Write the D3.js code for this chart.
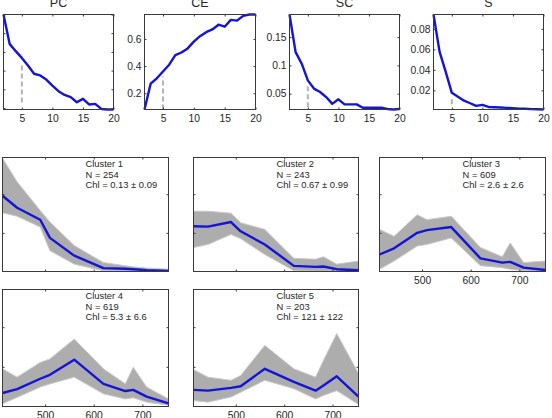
<!DOCTYPE html>
<html>
<head>
<meta charset="utf-8">
<script src="https://cdn.jsdelivr.net/npm/d3@7"></script>
<style>
	body { margin: 0; background: #fff; }
	svg text { font-family: "Liberation Sans", Arial, sans-serif; fill: #262626; }
</style>
</head>
<body>
<div id="chart"></div>
<script>
// ********** CLUSTER VALIDITY + SPECTRA FIGURE **********

// Number of clusters on the x axis of the validity panels
const nClusters = [2, 3, 4, 5, 6, 7, 8, 9, 10, 11, 12, 13, 14, 15, 16, 17, 18, 19, 20];
const nTicks = [5, 10, 15, 20];

// Validity indices
const pcValues = [0.80, 0.643, 0.604, 0.568, 0.527, 0.483, 0.474, 0.452, 0.420, 0.390, 0.370, 0.358, 0.331, 0.349, 0.319, 0.322, 0.295, 0.292, 0.292];
const ceValues = [0.08, 0.27, 0.31, 0.36, 0.41, 0.48, 0.50, 0.53, 0.58, 0.62, 0.65, 0.67, 0.705, 0.69, 0.74, 0.735, 0.77, 0.78, 0.78];
const scValues = [0.19, 0.1235, 0.103, 0.0735, 0.059, 0.053, 0.044, 0.032, 0.040, 0.031, 0.031, 0.031, 0.025, 0.025, 0.025, 0.025, 0.023, 0.022, 0.023];
const sValues = [0.094, 0.0575, 0.038, 0.0176, 0.0138, 0.0099, 0.0074, 0.0048, 0.0058, 0.0038, 0.0035, 0.0032, 0.0029, 0.0025, 0.0022, 0.0020, 0.0017, 0.0015, 0.0013];

// Tick positions of the validity panels (PC labels fall outside the picture)
const pcTicks = [0.3, 0.4, 0.5, 0.6, 0.7, 0.8];
const ceTicks = [0.2, 0.4, 0.6];
const scTicks = [0.05, 0.1, 0.15];
const sTicks = [0.02, 0.04, 0.06, 0.08];

// Chosen number of clusters (dashed marker) and its extent in each panel
const chosenN = 5;
const pcMarker = [0.33, 0.536];
const ceMarker = [0.08, 0.323];
const scMarker = [0.026, 0.063];
const sMarker = [0.0064, 0.0135];

// Spectra panels
const wavelengths = [412.5, 442.5, 490, 510, 560, 620, 665, 681.25, 708.75, 753.75];
const waveTicks = [500, 600, 700];
const clusterNames = ['Cluster 1', 'Cluster 2', 'Cluster 3', 'Cluster 4', 'Cluster 5'];
const clusterSizes = [254, 243, 609, 619, 203];
const clusterChl = ['0.13 \u00b1 0.09', '0.67 \u00b1 0.99', '2.6 \u00b1 2.6', '5.3 \u00b1 6.6', '121 \u00b1 122'];

// Mean spectrum of every cluster (blue)
const meanSpectra = [
	[1.96, 1.65, 1.34, 0.87, 0.41, 0.087, 0.07, 0.06, 0.035, 0.017],
	[1.17, 1.16, 1.28, 1.04, 0.70, 0.145, 0.12, 0.13, 0.06, 0.034],
	[0.44, 0.60, 1.00, 1.07, 1.15, 0.34, 0.23, 0.25, 0.10, 0.04],
	[0.34, 0.44, 0.70, 0.80, 1.18, 0.57, 0.39, 0.42, 0.25, 0.08],
	[0.42, 0.40, 0.47, 0.51, 0.95, 0.62, 0.40, 0.53, 0.76, 0.25]
];
// Upper and lower edge of the grey bundle of member spectra
const upperSpectra = [
	[2.93, 2.32, 1.58, 1.28, 0.67, 0.23, 0.15, 0.12, 0.09, 0.06],
	[1.56, 1.56, 1.51, 1.26, 1.09, 0.34, 0.32, 0.38, 0.19, 0.27],
	[1.09, 0.91, 1.47, 1.34, 1.43, 0.62, 0.38, 0.74, 0.23, 0.27],
	[0.95, 0.74, 1.11, 1.20, 1.70, 0.95, 0.57, 0.99, 0.49, 0.19],
	[0.93, 0.74, 0.66, 0.78, 1.54, 0.95, 0.74, 1.16, 1.84, 0.83]
];
const lowerSpectra = [
	[1.52, 1.43, 1.15, 0.54, 0.19, 0.02, 0.01, 0.01, 0.01, 0.005],
	[0.62, 0.70, 0.96, 0.85, 0.44, 0.02, 0.01, 0.01, 0.01, 0.005],
	[0.06, 0.27, 0.66, 0.70, 0.87, 0.15, 0.10, 0.06, 0.02, 0.0],
	[0.07, 0.23, 0.49, 0.57, 0.74, 0.32, 0.19, 0.22, 0.11, 0.03],
	[0.15, 0.11, 0.24, 0.36, 0.66, 0.45, 0.19, 0.28, 0.40, 0.05]
];

// Panel boxes (pixels)
const indexBoxes = [
	{ x0: 3, x1: 113, y0: 14, y1: 109 },
	{ x0: 144, x1: 255, y0: 14, y1: 109 },
	{ x0: 289, x1: 399, y0: 14, y1: 109 },
	{ x0: 433, x1: 543, y0: 14, y1: 109 }
];
const clusterBoxes = [
	{ x0: 2, x1: 168, y0: 157, y1: 271, labels: false },
	{ x0: 193, x1: 358, y0: 157, y1: 271, labels: false },
	{ x0: 379, x1: 545, y0: 157, y1: 271, labels: true },
	{ x0: 2, x1: 168, y0: 289, y1: 406, labels: true },
	{ x0: 193, x1: 358, y0: 289, y1: 406, labels: true }
];

const width = 552, height = 418;
const blue = '#1414d6';
const frameColor = '#3a3a3a';
const tickLen = 2;

const svg = d3.select('#chart')
	.append('svg')
	.attr('width', width)
	.attr('height', height);

// Draw a boxed frame with inward ticks on all four sides
const drawFrame = (g, x, y, w, h, xTicks, yTicks, xLabels, yFormat) => {
	g.append('rect')
		.attr('width', w)
		.attr('height', h)
		.attr('fill', 'none')
		.attr('stroke', frameColor)
		.attr('stroke-width', 1);

	const bottom = d3.axisBottom(x).tickValues(xTicks).tickSizeInner(-tickLen).tickSizeOuter(0).tickPadding(5)
		.tickFormat(xLabels ? d3.format('d') : '');
	const top = d3.axisTop(x).tickValues(xTicks).tickSizeInner(-tickLen).tickSizeOuter(0).tickFormat('');
	const left = d3.axisLeft(y).tickValues(yTicks).tickSizeInner(-tickLen).tickSizeOuter(0).tickPadding(3)
		.tickFormat(yFormat || '');
	const right = d3.axisRight(y).tickValues(yTicks).tickSizeInner(-tickLen).tickSizeOuter(0).tickFormat('');

	const axes = [
		g.append('g').attr('transform', `translate(0,${h})`).call(bottom),
		g.append('g').call(top),
		g.append('g').call(left),
		g.append('g').attr('transform', `translate(${w},0)`).call(right)
	];
	axes.forEach(a => {
		a.select('.domain').remove();
		a.selectAll('line').attr('stroke', frameColor);
		a.selectAll('text').style('font-size', '10.3px').attr('fill', '#262626');
		// drop empty labels so nothing sits outside the picture
		a.selectAll('text').filter(function() { return this.textContent === ''; }).remove();
	});
};

// Validity index panel
const drawIndexPanel = (box, title, values, ticks, marker, fmt) => {
	const w = box.x1 - box.x0, h = box.y1 - box.y0;
	const g = svg.append('g').attr('transform', `translate(${box.x0 + 0.5},${box.y0 + 0.5})`);
	const x = d3.scaleLinear().domain([2, 20]).range([0, w]);
	const y = d3.scaleLinear().domain(d3.extent(values)).range([h, 0]);

	// Dashed marker at the chosen cluster number
	g.append('line')
		.attr('x1', x(chosenN)).attr('x2', x(chosenN))
		.attr('y1', y(marker[0])).attr('y2', y(marker[1]))
		.attr('stroke', '#b3b3b3')
		.attr('stroke-width', 2)
		.attr('stroke-dasharray', '5,3');

	g.append('path')
		.datum(values)
		.attr('fill', 'none')
		.attr('stroke', blue)
		.attr('stroke-width', 2.4)
		.attr('stroke-linejoin', 'round')
		.attr('d', d3.line().x((d, i) => x(nClusters[i])).y(d => y(d)));

	drawFrame(g, x, y, w, h, nTicks, ticks, true, fmt === null ? null : d3.format(fmt));

	g.append('text')
		.attr('x', w / 2)
		.attr('y', -8)
		.attr('text-anchor', 'middle')
		.style('font-size', '12.5px')
		.text(title);
};

// Spectra panel for one cluster
const drawClusterPanel = (box, i) => {
	const w = box.x1 - box.x0, h = box.y1 - box.y0;
	const g = svg.append('g').attr('transform', `translate(${box.x0 + 0.5},${box.y0 + 0.5})`);
	const x = d3.scaleLinear().domain([wavelengths[0], wavelengths[wavelengths.length - 1]]).range([0, w]);
	const y = d3.scaleLinear().domain([0, 2.95]).range([h, 0]);

	g.append('clipPath')
		.attr('id', `clip-${i}`)
		.append('rect')
		.attr('width', w)
		.attr('height', h);
	const body = g.append('g').attr('clip-path', `url(#clip-${i})`);

	// Grey bundle of member spectra
	const band = wavelengths.map((wl, j) => ({ wl, lo: lowerSpectra[i][j], hi: upperSpectra[i][j] }));
	body.append('path')
		.datum(band)
		.attr('fill', '#adadad')
		.attr('d', d3.area().x(d => x(d.wl)).y0(d => y(d.lo)).y1(d => y(d.hi)));
	[upperSpectra[i], lowerSpectra[i]].forEach(edge => {
		body.append('path')
			.datum(edge)
			.attr('fill', 'none')
			.attr('stroke', '#c9c9c9')
			.attr('stroke-width', 1)
			.attr('d', d3.line().x((d, j) => x(wavelengths[j])).y(d => y(d)));
	});

	// Mean spectrum
	body.append('path')
		.datum(meanSpectra[i])
		.attr('fill', 'none')
		.attr('stroke', blue)
		.attr('stroke-width', 2.4)
		.attr('stroke-linejoin', 'round')
		.attr('d', d3.line().x((d, j) => x(wavelengths[j])).y(d => y(d)));

	drawFrame(g, x, y, w, h, waveTicks, [1, 2], box.labels, null);

	// Cluster annotation
	const lines = [clusterNames[i], `N = ${clusterSizes[i]}`, `Chl = ${clusterChl[i]}`];
	g.selectAll('text.note')
		.data(lines)
		.enter()
		.append('text')
		.attr('class', 'note')
		.attr('x', 83)
		.attr('y', (d, k) => 9.5 + k * 10.7)
		.style('font-size', '9.4px')
		.text(d => d);
};

drawIndexPanel(indexBoxes[0], 'PC', pcValues, pcTicks, pcMarker, null);
drawIndexPanel(indexBoxes[1], 'CE', ceValues, ceTicks, ceMarker, '.1f');
drawIndexPanel(indexBoxes[2], 'SC', scValues, scTicks, scMarker, '');
drawIndexPanel(indexBoxes[3], 'S', sValues, sTicks, sMarker, '.2f');

clusterBoxes.forEach((box, i) => drawClusterPanel(box, i));
</script>
</body>
</html>
